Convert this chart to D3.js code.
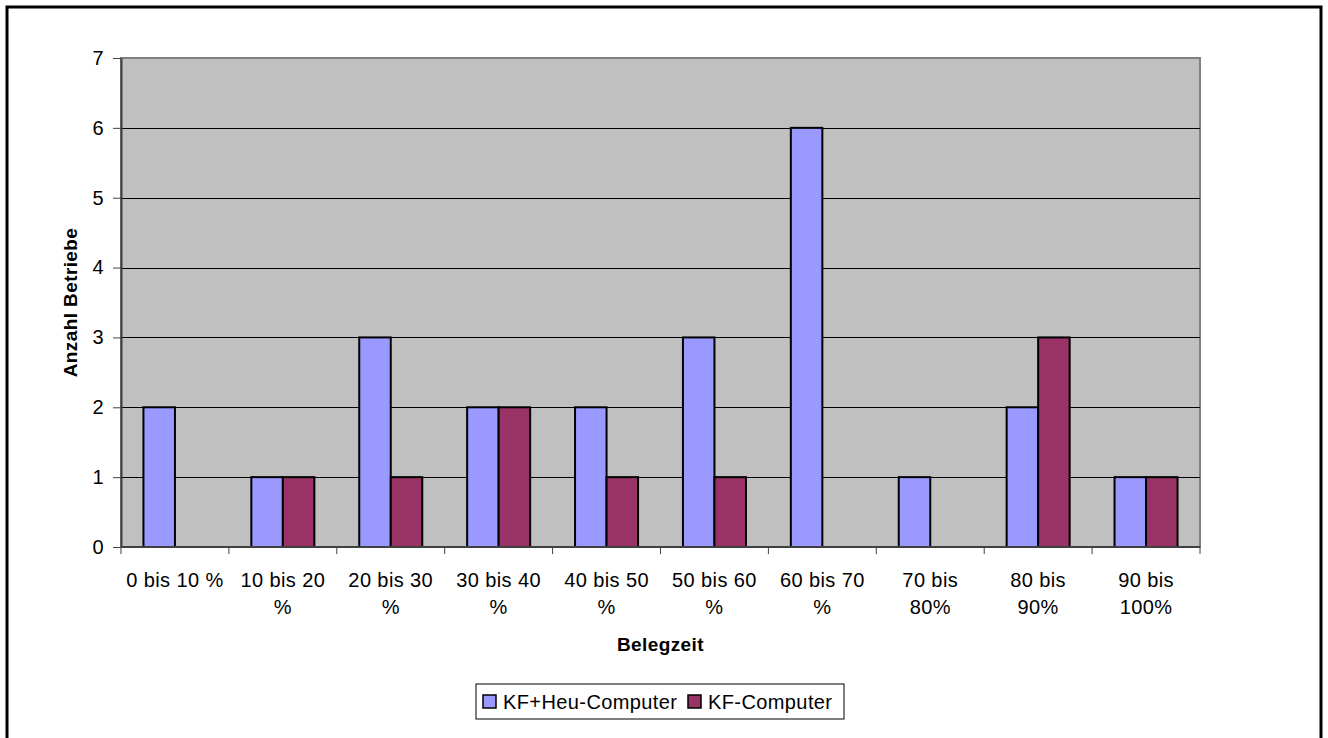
<!DOCTYPE html>
<html>
<head>
<meta charset="utf-8">
<script src="https://cdn.jsdelivr.net/npm/d3@7"></script>
<style>
  body { margin: 0; background: #fff; }
  svg { display: block; font-family: "Liberation Sans", Arial, sans-serif; }
  svg text { letter-spacing: 0.4px; }
</style>
</head>
<body>
<div id="chart"></div>
<script>
// data
var categories = ["0 bis 10 %", "10 bis 20 %", "20 bis 30 %", "30 bis 40 %", "40 bis 50 %",
                  "50 bis 60 %", "60 bis 70 %", "70 bis 80%", "80 bis 90%", "90 bis 100%"];
var categoryLines = [["0 bis 10 %"], ["10 bis 20", "%"], ["20 bis 30", "%"], ["30 bis 40", "%"],
                     ["40 bis 50", "%"], ["50 bis 60", "%"], ["60 bis 70", "%"], ["70 bis", "80%"],
                     ["80 bis", "90%"], ["90 bis", "100%"]];
var seriesNames = ["KF+Heu-Computer", "KF-Computer"];
var kfHeu = [2, 1, 3, 2, 2, 3, 6, 1, 2, 1];
var kf = [0, 1, 1, 2, 1, 1, 0, 0, 3, 1];
var yTicks = [0, 1, 2, 3, 4, 5, 6, 7];
var colours = ["#9999ff", "#993366"];

var w = 1328, h = 738;
var margin = {left: 121, right: 128, top: 58, bottom: 191};
var fontSize = 20;

var svg = d3.select("#chart").append("svg")
    .attr("width", w)
    .attr("height", h);

// outer frame
svg.append("rect")
    .attr("x", 7).attr("y", 7)
    .attr("width", 1314).attr("height", 740)
    .attr("fill", "none")
    .attr("stroke", "#000")
    .attr("stroke-width", 3);

var x = d3.scaleBand()
    .domain(categories)
    .range([margin.left, w - margin.right])
    .paddingInner(0.416)
    .paddingOuter(0.208);

var xOuter = d3.scaleBand()
    .domain(categories)
    .range([margin.left, w - margin.right]);

var xSub = d3.scaleBand()
    .domain(seriesNames)
    .range([0, x.bandwidth()]);

var y = d3.scaleLinear()
    .domain([0, 7])
    .range([h - margin.bottom, margin.top]);

// plot area
svg.append("rect")
    .attr("x", margin.left)
    .attr("y", margin.top)
    .attr("width", w - margin.left - margin.right)
    .attr("height", h - margin.top - margin.bottom)
    .attr("fill", "#c0c0c0")
    .attr("stroke", "#808080")
    .attr("stroke-width", 2);

// gridlines
svg.append("g")
    .selectAll("line")
    .data(yTicks.slice(1, -1))
    .enter()
    .append("line")
    .attr("x1", margin.left)
    .attr("x2", w - margin.right)
    .attr("y1", function(d) { return Math.round(y(d)) + 0.5; })
    .attr("y2", function(d) { return Math.round(y(d)) + 0.5; })
    .attr("stroke", "#000")
    .attr("stroke-width", 1);

// bars
var table = categories.map(function(c, i) {
    return {cat: c, values: [kfHeu[i], kf[i]]};
});

var groups = svg.append("g")
    .selectAll("g")
    .data(table)
    .enter()
    .append("g")
    .attr("transform", function(d) { return "translate(" + x(d.cat) + ",0)"; });

groups.selectAll("rect")
    .data(function(d) {
        return d.values.map(function(v, j) { return {name: seriesNames[j], value: v, j: j}; })
            .filter(function(e) { return e.value > 0; });
    })
    .enter()
    .append("rect")
    .attr("x", function(d) { return xSub(d.name); })
    .attr("y", function(d) { return y(d.value); })
    .attr("width", xSub.bandwidth())
    .attr("height", function(d) { return y(0) - y(d.value); })
    .attr("fill", function(d) { return colours[d.j]; })
    .attr("stroke", "#000")
    .attr("stroke-width", 2);

// y axis
var yAxis = svg.append("g")
    .attr("transform", "translate(" + margin.left + ",0)")
    .call(d3.axisLeft(y).tickValues(yTicks).tickFormat(d3.format("d"))
        .tickSize(8).tickPadding(9).tickSizeOuter(0));
yAxis.select(".domain").attr("stroke", "#404040").attr("stroke-width", 2);
yAxis.selectAll(".tick line").attr("stroke", "#404040");
yAxis.selectAll("text").attr("font-size", fontSize).attr("fill", "#000")
    .attr("font-family", "Liberation Sans, Arial, sans-serif");

// x axis
var xAxis = svg.append("g")
    .attr("transform", "translate(0," + (h - margin.bottom) + ")");
xAxis.append("line")
    .attr("x1", margin.left).attr("x2", w - margin.right)
    .attr("y1", 0).attr("y2", 0)
    .attr("stroke", "#404040").attr("stroke-width", 2);
xAxis.selectAll(".xtick")
    .data(categories.concat(["end"]))
    .enter()
    .append("line")
    .attr("class", "xtick")
    .attr("x1", function(d, i) { return i < categories.length ? xOuter(d) : w - margin.right; })
    .attr("x2", function(d, i) { return i < categories.length ? xOuter(d) : w - margin.right; })
    .attr("y1", 0).attr("y2", 7)
    .attr("stroke", "#404040");

xAxis.selectAll(".xlabel")
    .data(categoryLines)
    .enter()
    .append("text")
    .attr("class", "xlabel")
    .attr("font-size", fontSize)
    .attr("text-anchor", "middle")
    .attr("y", 40)
    .each(function(d, i) {
        var t = d3.select(this);
        var cx = xOuter(categories[i]) + xOuter.bandwidth() / 2;
        d.forEach(function(line, k) {
            t.append("tspan")
                .attr("x", cx)
                .attr("dy", k === 0 ? 0 : 27)
                .text(line);
        });
    });

// axis titles
svg.append("text")
    .attr("x", (margin.left + w - margin.right) / 2)
    .attr("y", 651)
    .attr("text-anchor", "middle")
    .attr("font-size", fontSize - 1)
    .attr("font-weight", "bold")
    .text("Belegzeit");

svg.append("text")
    .attr("transform", "translate(77," + ((margin.top + h - margin.bottom) / 2) + ") rotate(-90)")
    .attr("text-anchor", "middle")
    .attr("font-size", fontSize - 1)
    .attr("font-weight", "bold")
    .text("Anzahl Betriebe");

// legend
var legend = svg.append("g").attr("transform", "translate(476,684)");
legend.append("rect")
    .attr("width", 368).attr("height", 35)
    .attr("fill", "#fff")
    .attr("stroke", "#000")
    .attr("stroke-width", 1);

var legendX = [7, 212];
var items = legend.selectAll(".item")
    .data(seriesNames)
    .enter()
    .append("g")
    .attr("class", "item")
    .attr("transform", function(d, i) { return "translate(" + legendX[i] + ",0)"; });
items.append("rect")
    .attr("x", 0).attr("y", 11)
    .attr("width", 13).attr("height", 13)
    .attr("fill", function(d, i) { return colours[i]; })
    .attr("stroke", "#000")
    .attr("stroke-width", 1.5);
items.append("text")
    .attr("x", 20).attr("y", 25)
    .attr("font-size", fontSize)
    .text(function(d) { return d; });
</script>
</body>
</html>
